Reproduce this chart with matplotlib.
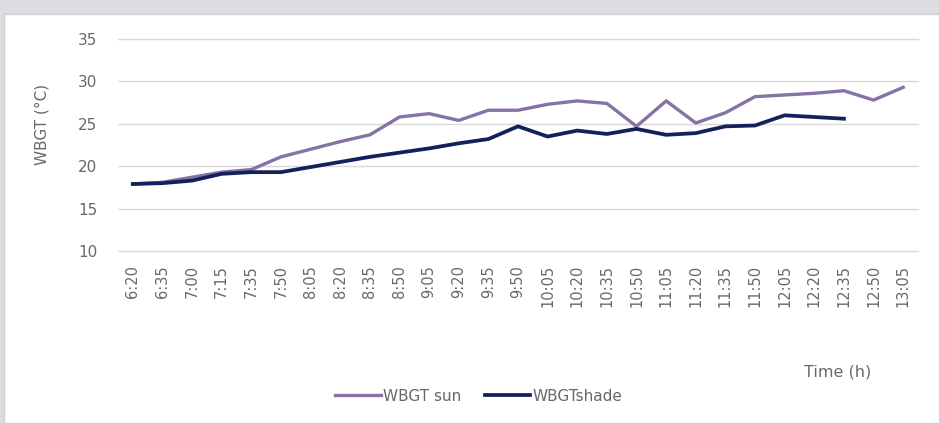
import numpy as np
import matplotlib.pyplot as plt
from matplotlib.patches import Rectangle

times = ["6:20", "6:35", "7:00", "7:15", "7:35", "7:50", "8:05", "8:20", "8:35",
         "8:50", "9:05", "9:20", "9:35", "9:50", "10:05", "10:20", "10:35", "10:50",
         "11:05", "11:20", "11:35", "11:50", "12:05", "12:20", "12:35", "12:50", "13:05"]
wbgt_sun = [17.9, 18.1, 18.7, 19.3, 19.6, 21.1, 22.0, 22.9, 23.7, 25.8, 26.2, 25.4,
            26.6, 26.6, 27.3, 27.7, 27.4, 24.7, 27.7, 25.1, 26.3, 28.2, 28.4, 28.6,
            28.9, 27.8, 29.3]
wbgt_shade = [17.9, 18.0, 18.3, 19.1, 19.3, 19.3, 19.9, 20.5, 21.1, 21.6, 22.1, 22.7,
              23.2, 24.7, 23.5, 24.2, 23.8, 24.4, 23.7, 23.9, 24.7, 24.8, 26.0, 25.8,
              25.6, np.nan, np.nan]

txt = "#686868"
fig = plt.figure(figsize=(9.39, 4.23), dpi=100, facecolor="#dcdde0")
fig.patches.append(Rectangle((4 / 939, 0), 1, 1 - 14 / 423, transform=fig.transFigure,
                             facecolor="white", edgecolor="#d0d0d0", lw=1.0, zorder=-10))

ax = fig.add_axes([118 / 939, 1 - 251 / 423, 800 / 939, 212 / 423])
ax.set_facecolor("none")
x = np.arange(len(times))
ax.plot(x, wbgt_sun, color="#8672a6", lw=2.4, label="WBGT sun", zorder=3)
ax.plot(x, wbgt_shade, color="#12215a", lw=2.7, label="WBGTshade", zorder=4)

ax.set_xlim(-0.5, len(times) - 0.5)
ax.set_ylim(10, 35)
ax.set_yticks(range(10, 36, 5))
ax.set_xticks(x)
ax.set_xticklabels(times, rotation=90)
ax.grid(axis="y", color="#d9d9d9", lw=1.0)
for gl in ax.get_ygridlines():
    gl.set_clip_on(False)
ax.set_axisbelow(True)
for s in ax.spines.values():
    s.set_visible(False)
ax.tick_params(length=0, labelcolor=txt)
ax.tick_params(axis="y", pad=15, labelsize=11)
ax.tick_params(axis="x", pad=10, labelsize=10.5)

fig.text(42 / 939, 1 - 124 / 423, "WBGT (°C)", rotation=90, ha="center", va="center",
         fontsize=11, color=txt)
fig.text(838 / 939, 1 - 372 / 423, "Time (h)", ha="center", va="center",
         fontsize=11.5, color=txt)
fig.legend(loc="center", bbox_to_anchor=(479 / 939, 1 - 396 / 423), ncol=2,
           frameon=False, fontsize=11, handlelength=3.0, handletextpad=0.15,
           columnspacing=1.5, labelcolor=txt)

plt.savefig("out.png", dpi=100, facecolor=fig.get_facecolor())
